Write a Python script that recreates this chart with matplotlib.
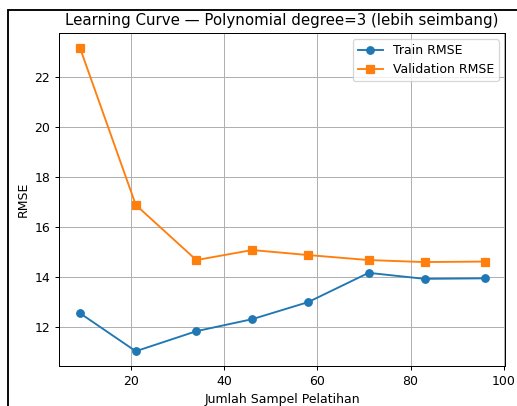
import matplotlib.pyplot as plt
from matplotlib.patches import Rectangle

# ukuran sampel latih dan skor RMSE
train_sizes = [9, 21, 34, 46, 58, 71, 83, 96]
train_rmse = [12.56, 11.04, 11.84, 12.32, 13.00, 14.17, 13.93, 13.95]
val_rmse = [23.16, 16.88, 14.68, 15.08, 14.88, 14.68, 14.60, 14.62]

DPI = 90
fig = plt.figure(figsize=(517 / DPI, 406 / DPI), dpi=DPI)
ax = fig.add_axes([0.114, 0.0985, 0.863, 0.8205])

ax.plot(train_sizes, train_rmse, marker='o', label='Train RMSE')
ax.plot(train_sizes, val_rmse, marker='s', label='Validation RMSE')
ax.set_title('Learning Curve — Polynomial degree=3 (lebih seimbang)')
ax.set_xlabel('Jumlah Sampel Pelatihan')
ax.set_ylabel('RMSE')
ax.set_xticks([20, 40, 60, 80, 100])
ax.set_yticks([12, 14, 16, 18, 20, 22])
ax.set_xlim(4.5, 100.3)
ax.set_ylim(10.45, 23.75)
ax.grid(True)
ax.legend(loc='upper right')

# bingkai hitam di tepi kiri dan atas
fig.patches.append(Rectangle((8 / 517, -0.05), 1.2, 1 - 10 / 406 + 0.05,
                             transform=fig.transFigure, fill=False,
                             edgecolor='black', linewidth=1.5))

fig.savefig('out.png', dpi=DPI)
